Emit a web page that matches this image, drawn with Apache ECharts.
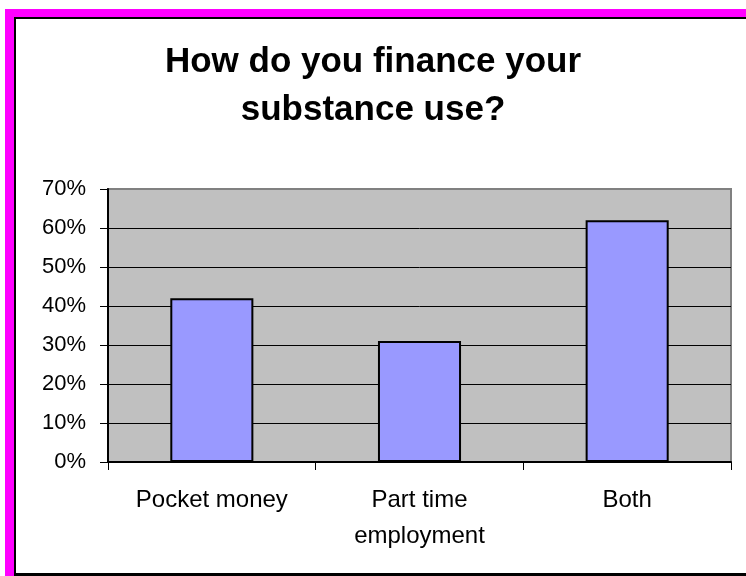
<!DOCTYPE html>
<html>
<head>
<meta charset="utf-8">
<script src="https://cdn.jsdelivr.net/npm/echarts@6/dist/echarts.min.js"></script>
<style>
  html, body { margin: 0; padding: 0; background: #fff; }
  #wrap { position: relative; width: 746px; height: 576px; overflow: hidden; background: #fff; }
  #frameOuter { position: absolute; left: 5px; top: 9px; width: 741px; height: 567px; background: #FF00FF; }
  #frameInner { position: absolute; left: 14px; top: 17px; width: 732px; height: 559px; background: #000; }
  #frameWhite { position: absolute; left: 16px; top: 19px; width: 730px; height: 554px; background: #fff; }
  #chart { position: absolute; left: 0; top: 0; width: 746px; height: 576px; }
</style>
</head>
<body>
<div id="wrap">
  <div id="frameOuter"></div>
  <div id="frameInner"></div>
  <div id="frameWhite"></div>
  <div id="chart"></div>
</div>
<script>
// Survey answers: how respondents finance their substance use
const titleText = 'How do you finance your\nsubstance use?';
const categories = ['Pocket money', 'Part time\nemployment', 'Both'];
const shares = [0.42, 0.31, 0.62];
const yMin = 0;
const yMax = 0.7;
const yStep = 0.1;

const fontFamily = "'Liberation Sans', Arial, sans-serif";

// gridlines are black, the topmost one blends into the grey plot border
const gridLineColors = ['#000', '#000', '#000', '#000', '#000', '#000', '#000', '#808080'];

const chart = echarts.init(document.getElementById('chart'), null, { renderer: 'canvas' });
chart.setOption({
  backgroundColor: 'transparent',
  animation: false,
  title: {
    text: titleText,
    left: 368,
    top: 33,
    textAlign: 'center',
    textStyle: {
      fontFamily: fontFamily,
      fontSize: 35,
      fontWeight: 'bold',
      color: '#000',
      lineHeight: 48
    }
  },
  grid: {
    left: 108,
    top: 189,
    right: 15,
    bottom: 114,
    show: true,
    backgroundColor: '#C0C0C0',
    borderColor: '#808080',
    borderWidth: 2
  },
  xAxis: {
    type: 'category',
    data: categories,
    boundaryGap: true,
    axisLine: { show: true, lineStyle: { color: '#000', width: 2 } },
    axisTick: { show: true, length: 8, inside: false, lineStyle: { color: '#000', width: 1 } },
    axisLabel: {
      interval: 0,
      margin: 20,
      fontFamily: fontFamily,
      fontSize: 24,
      lineHeight: 36,
      color: '#000'
    },
    splitLine: { show: false }
  },
  yAxis: {
    type: 'value',
    min: yMin,
    max: yMax,
    interval: yStep,
    axisLine: { show: true, lineStyle: { color: '#000', width: 2 } },
    axisTick: { show: true, length: 8, inside: false, lineStyle: { color: '#000', width: 1 } },
    axisLabel: {
      margin: 22,
      fontFamily: fontFamily,
      fontSize: 22,
      color: '#000',
      formatter: function (v) { return Math.round(v * 100) + '%'; }
    },
    splitLine: { show: true, lineStyle: { color: gridLineColors, width: 1 } }
  },
  series: [{
    type: 'bar',
    data: shares,
    barWidth: '40%',
    itemStyle: {
      color: '#9999FF',
      borderColor: '#000',
      borderWidth: 2
    }
  }]
});
</script>
</body>
</html>
